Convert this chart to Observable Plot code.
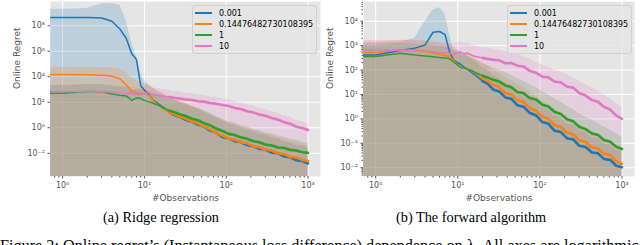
<!DOCTYPE html>
<html><head><meta charset="utf-8">
<script src="https://cdn.jsdelivr.net/npm/d3@7"></script>
<script src="https://cdn.jsdelivr.net/npm/@observablehq/plot@0.6"></script>
<style>
body{margin:0;background:#fff;}
#fig{position:relative;width:640px;height:245px;overflow:hidden;font-family:"DejaVu Sans";}
.panel{position:absolute;top:0;}
.legend{position:absolute;top:5px;width:125px;height:49px;background:rgba(229,229,229,0.8);border:1px solid rgba(204,204,204,0.8);border-radius:3px;box-sizing:border-box;font:8px "DejaVu Sans";color:#000;}
.legend .row{position:absolute;left:2px;height:11px;display:flex;align-items:center;white-space:nowrap;}
.legend .sw{width:17px;height:1.5px;margin-right:7px;}
.cap{position:absolute;font-family:"Liberation Serif";color:#000;white-space:nowrap;}
</style></head><body>
<div id="fig"></div>
<script>
// ---- series and shared x positions (#Observations, 0-based) ----
const seriesNames = ["0.001", "0.14476482730108395", "1", "10"];
const seriesColors = ["#1f77b4", "#ff7f0e", "#2ca02c", "#e377c2"];
const X = [0,1,2,3,4,5,6,7,8,9,10,11,12,13,15,17,20,23,27,32,38,45,53,63,75,90,107,127,150,180,215,255,300,360,430,510,600,720,850,999];

// ---- (a) Ridge regression: log10 of mean regret ----
const ridgeMean_001  = [8.65,8.65,8.64,8.6,8.35,7.75,7.0,5.8,5.35,3.3, 2.95,2.7,2.4,2.15, 1.85,1.6,1.25, 1.02,0.85,0.62,0.48,0.25,0.1,-0.2,-0.38,-0.72, -0.85,-1.05,-1.12,-1.35,-1.45,-1.65,-1.72, -1.95,-2.0,-2.25,-2.3,-2.55,-2.6,-2.8];
const ridgeMean_0144 = [4.18,4.17,4.15,4.12,4.05,3.85,3.35,2.87,2.75,2.65, 2.7,2.6,2.45,2.1, 1.75,1.5,1.22, 1.07,0.89,0.72,0.49,0.35,0.11,-0.1,-0.4,-0.6, -0.85,-0.93,-1.13,-1.22,-1.44,-1.52,-1.72, -1.78,-2.0,-2.06,-2.27,-2.33,-2.52,-2.6];
const ridgeMean_1    = [2.67,2.7,2.85,2.82,2.65,2.55,2.5,2.14,2.35,2.3, 2.15,2.05,2.0,1.9, 1.75,1.55,1.36, 1.23,1.07,0.92,0.71,0.59,0.38,0.2,-0.06,-0.25, -0.48,-0.57,-0.75,-0.86,-1.05,-1.13,-1.32, -1.39,-1.55,-1.59,-1.73,-1.78,-1.92,-1.96];
const ridgeMean_10   = [2.85,2.85,2.83,2.82,2.8,2.77,2.73,2.68,2.62,2.6, 2.68,2.8,2.62,2.58, 2.53,2.48,2.42, 2.35,2.3,2.22,2.18,2.08,2.05,1.94,1.89,1.78, 1.71,1.55,1.47,1.29,1.2,1.03,0.94, 0.76,0.64,0.44,0.32,0.08,-0.02,-0.18];
// log10 of upper band edge (mean + sd)
const ridgeUpper_001  = [9.28,9.3,9.35,9.7,9.75,9.6,8.4,6.6,5.5,4.3, 3.7,3.4,3.2,3.0, 2.8,2.6,2.4, 2.2,2.0,1.8,1.65,1.45,1.25,1.0,0.8,0.5, 0.35,0.15,0.05,-0.2,-0.3,-0.5,-0.55, -0.8,-0.85,-1.1,-1.15,-1.4,-1.45,-1.6];
const ridgeUpper_0144 = [4.75,4.75,4.73,4.72,4.7,4.65,4.3,3.9,3.7,3.55, 3.45,3.4,3.3,3.1, 2.9,2.7,2.45, 2.27,2.1,1.92,1.7,1.55,1.32,1.1,0.82,0.6, 0.37,0.27,0.08,-0.02,-0.24,-0.32,-0.52, -0.58,-0.8,-0.86,-1.07,-1.13,-1.32,-1.4];
const ridgeUpper_1    = [3.3,3.3,3.4,3.4,3.3,3.2,3.15,2.9,3.0,3.0, 2.9,2.8,2.75,2.65, 2.55,2.4,2.25, 2.18,2.02,1.87,1.66,1.54,1.33,1.15,0.89,0.7, 0.47,0.38,0.2,0.09,-0.12,-0.2,-0.4, -0.47,-0.65,-0.71,-0.88,-0.95,-1.12,-1.2];
const ridgeUpper_10   = [3.35,3.35,3.33,3.32,3.3,3.27,3.23,3.18,3.12,3.12, 3.2,3.3,3.15,3.1, 3.05,3.0,2.92, 2.85,2.8,2.72,2.68,2.58,2.55,2.44,2.39,2.28, 2.21,2.05,1.97,1.79,1.7,1.53,1.44, 1.26,1.14,0.94,0.82,0.58,0.48,0.32];

// ---- (b) The forward algorithm: log10 of mean regret ----
const fwdMean_001  = [2.6,2.62,2.8,2.9,3.03,3.55,3.58,3.45,2.7,2.4, 2.3,2.22,2.12,2.05, 1.88,1.75,1.55, 1.45,1.2,1.12,0.88,0.82,0.56,0.5,0.25,0.14, -0.13,-0.2,-0.48,-0.54,-0.8,-0.84,-1.1, -1.15,-1.38,-1.41,-1.64,-1.68,-1.92,-1.98];
const fwdMean_0144 = [2.7,2.72,2.83,2.82,2.78,2.7,2.65,2.6,2.55,2.39, 2.2,2.1,2.08,2.06, 2.0,1.85,1.68, 1.56,1.4,1.3,1.06,1.0,0.78,0.7,0.45,0.33, 0.1,0.0,-0.25,-0.33,-0.57,-0.63,-0.87, -0.95,-1.17,-1.21,-1.43,-1.48,-1.73,-1.84];
const fwdMean_1    = [2.55,2.56,2.69,2.62,2.58,2.55,2.52,2.5,2.46,2.32, 2.2,2.1,2.08,2.04, 1.96,1.87,1.77, 1.7,1.6,1.53,1.37,1.3,1.1,1.06,0.86,0.79, 0.58,0.51,0.29,0.2,-0.02,-0.1,-0.32, -0.42,-0.6,-0.66,-0.86,-0.94,-1.14,-1.23];
const fwdMean_10   = [2.83,2.83,2.8,2.78,2.76,2.74,2.72,2.7,2.68,2.66, 2.7,2.73,2.65,2.7, 2.6,2.55,2.5, 2.46,2.42,2.4,2.28,2.29,2.18,2.15,1.97,1.89, 1.73,1.7,1.53,1.49,1.32,1.28,1.06, 0.96,0.77,0.7,0.5,0.38,0.14,0.0];
const fwdUpper_001  = [3.1,3.1,3.15,3.3,4.0,4.45,4.55,4.3,3.4,2.8, 2.8,2.75,2.65,2.6, 2.45,2.3,2.1, 2.0,1.78,1.67,1.45,1.38,1.13,1.06,0.82,0.7, 0.45,0.38,0.1,0.05,-0.22,-0.25,-0.5, -0.55,-0.78,-0.8,-1.02,-1.06,-1.3,-1.36];
const fwdUpper_0144 = [3.15,3.15,3.22,3.22,3.2,3.15,3.12,3.08,3.05,2.95, 2.8,2.72,2.68,2.65, 2.58,2.45,2.28, 2.18,2.0,1.88,1.7,1.58,1.42,1.3,1.1,0.92, 0.74,0.58,0.4,0.26,0.08,-0.04,-0.22, -0.36,-0.52,-0.62,-0.78,-0.9,-1.08,-1.2];
const fwdUpper_1    = [3.0,3.0,3.1,3.05,3.02,3.0,2.98,2.95,2.92,2.8, 2.7,2.6,2.58,2.55, 2.46,2.38,2.28, 2.2,2.1,2.0,1.9,1.78,1.64,1.54,1.4,1.27, 1.12,0.99,0.83,0.68,0.52,0.38,0.22, 0.06,-0.06,-0.18,-0.32,-0.46,-0.6,-0.73];
const fwdUpper_10   = [3.22,3.22,3.2,3.18,3.16,3.14,3.12,3.1,3.08,3.06, 3.12,3.15,3.08,3.12, 3.03,2.98,2.93, 2.9,2.86,2.8,2.76,2.7,2.66,2.56,2.45,2.3, 2.2,2.12,2.0,1.91,1.8,1.7,1.54, 1.4,1.27,1.14,1.0,0.83,0.65,0.47];

// lower band edge is <= 0 in the source; the log axis clips it to the bottom
const FLOOR = 1e-12;
// from here on the per-step noise makes each line a thick jagged band
const NOISY_FROM = 20;

// ---- ticks and text ----
const xTicks = [1, 10, 100, 1000];
const xTickLabels = ["10\u2070", "10\u00b9", "10\u00b2", "10\u00b3"];
const ridgeYTicks = [1e-2, 1, 1e2, 1e4, 1e6, 1e8];
const ridgeYTickLabels = ["10\u207b\u00b2", "10\u2070", "10\u00b2", "10\u2074", "10\u2076", "10\u2078"];
const fwdYTicks = [1e-2, 1e-1, 1, 1e1, 1e2, 1e3, 1e4];
const fwdYTickLabels = ["10\u207b\u00b2", "10\u207b\u00b9", "10\u2070", "10\u00b9", "10\u00b2", "10\u00b3", "10\u2074"];
const xLabel = "#Observations";
const yLabel = "Online Regret";
const captionA = "(a) Ridge regression";
const captionB = "(b) The forward algorithm";
const figCaption = "Figure 2: Online regret\u2019s (Instantaneous loss difference) dependence on \u03bb. All axes are logarithmic";

function rowsFrom(means, uppers) {
  const rows = [];
  seriesNames.forEach((s, k) => {
    X.forEach((x, i) => rows.push({series: s, x, mean: Math.pow(10, means[k][i]), hi: Math.pow(10, uppers[k][i])}));
  });
  return rows;
}
const ridgeRows = rowsFrom([ridgeMean_001, ridgeMean_0144, ridgeMean_1, ridgeMean_10],
                           [ridgeUpper_001, ridgeUpper_0144, ridgeUpper_1, ridgeUpper_10]);
const fwdRows = rowsFrom([fwdMean_001, fwdMean_0144, fwdMean_1, fwdMean_10],
                         [fwdUpper_001, fwdUpper_0144, fwdUpper_1, fwdUpper_10]);

// matplotlib clips non-positive x on a log axis to a tiny value (line runs to the left edge)
const xPos = d => d.x > 0 ? d.x : 1e-3;
const xDomain = [0.711, 1420];
const minorOf = dom => d3.scaleLog().domain(dom).ticks().filter(t => Math.abs(Math.log10(t) - Math.round(Math.log10(t))) > 1e-9);
const labeler = (ticks, labels) => d => labels[ticks.findIndex(t => Math.abs(Math.log10(t) - Math.log10(d)) < 1e-6)];

function panel({rows, yDomain, yTicks, yTickLabels, mL, mR, yMinor}) {
  const marks = [
    Plot.frame({fill: "#E5E5E5", stroke: null}),
    Plot.gridX(xTicks, {stroke: "#fff", strokeOpacity: 1, strokeWidth: 1}),
    Plot.gridY(yTicks, {stroke: "#fff", strokeOpacity: 1, strokeWidth: 1}),
    Plot.areaY(rows, {x: xPos, y1: FLOOR, y2: "hi", z: "series", fill: "series", fillOpacity: 0.2, clip: true}),
    Plot.lineY(rows, {x: xPos, y: "mean", z: "series", stroke: "series", strokeWidth: 1.5, clip: true}),
    Plot.lineY(rows, {filter: d => d.x >= NOISY_FROM, x: xPos, y: "mean", z: "series", stroke: "series", strokeWidth: 2.6, strokeLinejoin: "miter", clip: true}),
    Plot.axisX(xTicks, {tickSize: 2.5, tickPadding: 3, tickFormat: labeler(xTicks, xTickLabels), label: null, stroke: "#555", fill: "#555"}),
    Plot.axisX(minorOf(xDomain), {tickSize: 1.5, tickFormat: () => "", label: null, stroke: "#555"}),
    Plot.axisY(yTicks, {tickSize: 2.5, tickPadding: 3, tickFormat: labeler(yTicks, yTickLabels), label: null, stroke: "#555", fill: "#555"}),
    Plot.text([yLabel], {frameAnchor: "left", dx: -33, rotate: -90, text: d => d, fontSize: 9, fill: "#555"}),
    Plot.text([xLabel], {frameAnchor: "bottom", dy: 24, text: d => d, fontSize: 9, fill: "#555"})
  ];
  if (yMinor) marks.push(Plot.axisY(minorOf(yDomain), {tickSize: 1.5, tickFormat: () => "", label: null, stroke: "#555"}));
  return Plot.plot({
    width: 320, height: 205,
    marginLeft: mL, marginRight: mR, marginTop: 1, marginBottom: 29,
    x: {type: "log", domain: xDomain},
    y: {type: "log", domain: yDomain},
    color: {domain: seriesNames, range: seriesColors},
    style: {fontFamily: "DejaVu Sans", fontSize: "8px", color: "#555", background: "transparent", overflow: "visible"},
    marks
  });
}

const fig = document.getElementById("fig");
function place(el, left, cls) {
  const d = document.createElement("div");
  d.className = cls; d.style.left = left + "px"; d.appendChild(el); fig.appendChild(d); return d;
}
place(panel({rows: ridgeRows, yDomain: [Math.pow(10, -3.82), Math.pow(10, 9.9)], yTicks: ridgeYTicks, yTickLabels: ridgeYTickLabels, mL: 50, mR: 0, yMinor: false}), 0, "panel");
place(panel({rows: fwdRows, yDomain: [Math.pow(10, -2.36), Math.pow(10, 4.81)], yTicks: fwdYTicks, yTickLabels: fwdYTickLabels, mL: 43, mR: 6, yMinor: true}), 320, "panel");

function legend(left) {
  const lg = document.createElement("div");
  lg.className = "legend"; lg.style.left = left + "px";
  seriesNames.forEach((s, k) => {
    const r = document.createElement("div");
    r.className = "row"; r.style.top = (1.5 + 11 * k) + "px";
    const sw = document.createElement("span"); sw.className = "sw"; sw.style.background = seriesColors[k];
    const t = document.createElement("span"); t.textContent = s;
    r.appendChild(sw); r.appendChild(t); lg.appendChild(r);
  });
  fig.appendChild(lg);
}
legend(192);
legend(507);

function caption(text, cx, top, size) {
  const c = document.createElement("div");
  c.className = "cap"; c.textContent = text;
  c.style.fontSize = size + "px"; c.style.lineHeight = size + "px"; c.style.top = top + "px";
  fig.appendChild(c);
  if (cx !== null) c.style.left = (cx - c.offsetWidth / 2) + "px"; else c.style.left = "0px";
  return c;
}
caption(captionA, 161, 209.5, 14.3);
caption(captionB, 471, 209.5, 14.3);
caption(figCaption, null, 237.5, 16.2);
</script>
</body></html>
